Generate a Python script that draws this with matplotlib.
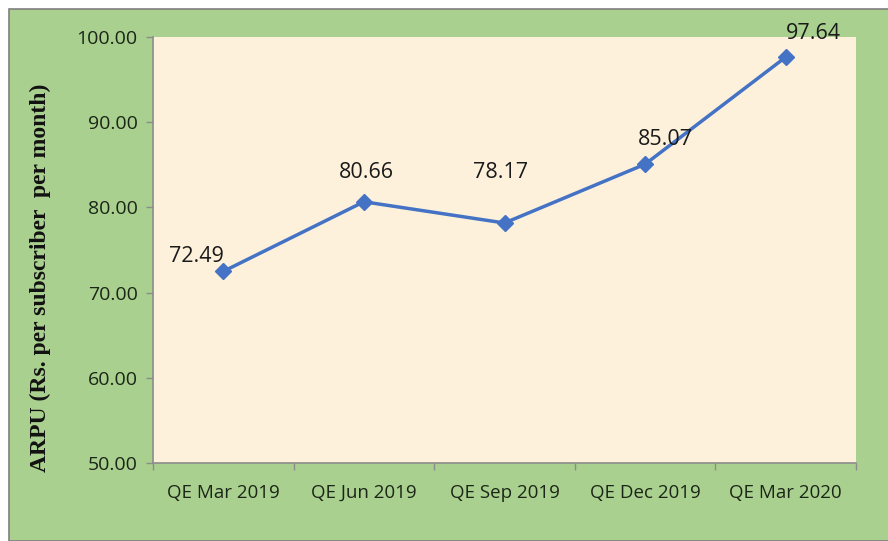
"""ARPU line chart, quarterly."""

import matplotlib
matplotlib.use("Agg")
import matplotlib.pyplot as plt
from matplotlib.patches import Rectangle
from matplotlib.ticker import FormatStrFormatter

quarters = ["QE Mar 2019", "QE Jun 2019", "QE Sep 2019", "QE Dec 2019", "QE Mar 2020"]
arpu = [72.49, 80.66, 78.17, 85.07, 97.64]
y_ticks = [50, 60, 70, 80, 90, 100]

W, H = 888, 541
fig = plt.figure(figsize=(W / 100, H / 100), dpi=100, facecolor="white")

# green chart frame with thin grey border (left/top)
fig.patches.append(
    Rectangle((9 / W, 0), 1, 1 - 9 / H, transform=fig.transFigure,
              facecolor="#a9d08e", edgecolor="#7f7f7f", linewidth=1.2, zorder=-10)
)

ax = fig.add_axes([153 / W, 1 - 463 / H, (856 - 153) / W, (463 - 37) / H])
ax.set_facecolor("#fdf1dc")

x = list(range(len(quarters)))
ax.plot(x, arpu, color="#4472c4", linewidth=2.5, marker="D", markersize=8.5,
        markerfacecolor="#4472c4", markeredgecolor="#4472c4", zorder=3)

# label offsets in points (manually placed in the original)
offsets = [(-19, 11), (2, 21), (-3, 36), (15, 18), (20, 17)]
for xi, v, (dx, dy) in zip(x, arpu, offsets):
    ax.annotate(f"{v:.2f}", (xi, v), xytext=(dx, dy), textcoords="offset points",
                ha="center", va="center", fontsize=15.5, family="Open Sans",
                color="#1a1a1a", annotation_clip=False)

ax.set_xlim(-0.5, len(quarters) - 0.5)
ax.set_ylim(50, 100)
ax.set_yticks(y_ticks)
ax.yaxis.set_major_formatter(FormatStrFormatter("%.2f"))
ax.set_xticks(x)
ax.set_xticklabels(quarters)
ax.set_xticks([i - 0.5 for i in range(len(quarters) + 1)], minor=True)
ax.tick_params(axis="x", which="major", length=0, pad=15)
ax.tick_params(axis="x", which="minor", length=5, color="#8c8c8c", width=1)
ax.tick_params(axis="y", length=5, color="#8c8c8c", width=1, pad=6)
for lab in ax.get_xticklabels():
    lab.set_family("Open Sans")
    lab.set_fontsize(13.5)
    lab.set_color("#1c2618")
for lab in ax.get_yticklabels():
    lab.set_family("Open Sans")
    lab.set_fontsize(14)
    lab.set_color("#1c2618")

for side in ["top", "right"]:
    ax.spines[side].set_visible(False)
for side in ["left", "bottom"]:
    ax.spines[side].set_color("#8c8c8c")
    ax.spines[side].set_linewidth(1.2)

ax.set_ylabel("ARPU (Rs. per subscriber  per month)", family="Liberation Serif",
              fontweight="bold", fontsize=17, color="#111111")
ax.yaxis.set_label_coords(-(153 - 51) / (856 - 153), (463 - 278) / (463 - 37))

fig.savefig("out.png", dpi=100, facecolor=fig.get_facecolor())
